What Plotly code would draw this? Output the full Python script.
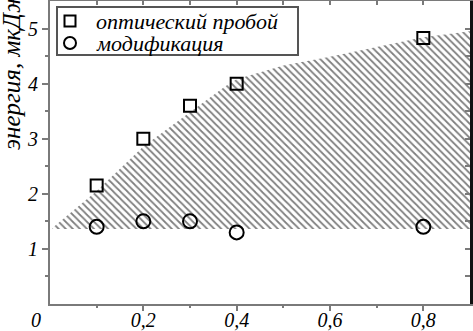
import plotly.graph_objects as go

# ---- data ----
x_values = [0.1, 0.2, 0.3, 0.4, 0.8]
breakdown = [2.15, 3.0, 3.6, 4.0, 4.83]        # оптический пробой
modification = [1.4, 1.5, 1.5, 1.3, 1.4]        # модификация

hatch_top_x = [0.005, 0.1, 0.2, 0.3, 0.375, 0.4, 0.5, 0.6, 0.7, 0.8, 0.9]
hatch_top_y = [1.38, 2.05, 2.86, 3.48, 3.95, 4.08, 4.33, 4.49, 4.66, 4.84, 4.95]
hatch_bottom_y = 1.36

x_tickvals = [0.2, 0.4, 0.6, 0.8]
x_ticktext = ["0,2", "0,4", "0,6", "0,8"]
y_tickvals = [1, 2, 3, 4, 5]
y_ticktext = ["1", "2", "3", "4", "5"]

legend_labels = ["оптический пробой", "модификация"]
y_title = "энергия, мкДж"

FONT = "Liberation Serif"
GRAY = "#7a7a7a"

fig = go.Figure()

# hatched region
poly_x = hatch_top_x + [hatch_top_x[-1], hatch_top_x[0]]
poly_y = hatch_top_y + [hatch_bottom_y, hatch_bottom_y]
fig.add_trace(go.Scatter(
    x=poly_x, y=poly_y, mode="lines", fill="toself",
    line=dict(width=0, color="rgba(0,0,0,0)"),
    fillcolor="rgba(0,0,0,0)",
    fillpattern=dict(shape="\\", size=5, solidity=0.35,
                     fgcolor="black", bgcolor="rgba(0,0,0,0)"),
    showlegend=False, hoverinfo="skip"))

fig.add_trace(go.Scatter(
    x=x_values, y=breakdown, mode="markers", name=legend_labels[0],
    marker=dict(symbol="square-open", size=12, color="black",
                line=dict(width=2, color="black")),
    showlegend=False))
fig.add_trace(go.Scatter(
    x=x_values, y=modification, mode="markers", name=legend_labels[1],
    marker=dict(symbol="circle-open", size=14, color="black",
                line=dict(width=2, color="black")),
    showlegend=False))

# empty trace to create the mirrored (top/right) axes
fig.add_trace(go.Scatter(x=[], y=[], xaxis="x2", yaxis="y2",
                         showlegend=False, hoverinfo="skip"))

tickfont = dict(family=FONT, size=20, color="black", style="italic")

fig.update_layout(
    width=473, height=331,
    margin=dict(l=50, r=3, t=1, b=27, autoexpand=False),
    paper_bgcolor="white", plot_bgcolor="white",
    showlegend=False,
    xaxis=dict(range=[0, 0.9], showgrid=False, zeroline=False,
               showline=True, linecolor=GRAY, linewidth=2,
               tickmode="array", tickvals=x_tickvals, ticktext=x_ticktext,
               ticks="outside", ticklen=5, tickwidth=1.5, tickcolor=GRAY,
               tickfont=tickfont, ticklabelstandoff=-8,
               minor=dict(tickmode="array", tickvals=[0.1, 0.3, 0.5, 0.7],
                          ticks="outside", ticklen=2, tickwidth=1.5,
                          tickcolor=GRAY, showgrid=False)),
    yaxis=dict(range=[0, 5.5], showgrid=False, zeroline=False,
               showline=True, linecolor=GRAY, linewidth=2,
               tickmode="array", tickvals=y_tickvals, ticktext=y_ticktext,
               ticks="outside", ticklen=6, tickwidth=1.5, tickcolor=GRAY,
               tickfont=tickfont,
               minor=dict(tickmode="array",
                          tickvals=[0.5, 1.5, 2.5, 3.5, 4.5],
                          ticks="outside", ticklen=3, tickwidth=1.5,
                          tickcolor=GRAY, showgrid=False)),
    xaxis2=dict(range=[0, 0.9], overlaying="x", side="top", anchor="y2",
                showgrid=False, zeroline=False, showline=True,
                linecolor=GRAY, linewidth=2, showticklabels=False,
                tickmode="linear", tick0=0, dtick=0.1,
                ticks="inside", ticklen=4, tickwidth=1.5, tickcolor=GRAY),
    yaxis2=dict(range=[0, 5.5], overlaying="y", side="right", anchor="x2",
                showgrid=False, zeroline=False, showline=True,
                linecolor="#111111", linewidth=2.5, showticklabels=False,
                tickmode="linear", tick0=0, dtick=0.5,
                ticks="inside", ticklen=5, tickwidth=1.5, tickcolor=GRAY),
)

# manual legend
lx0, lx1 = (57 - 50) / 420, (298 - 50) / 420
ly0, ly1 = (304 - 55) / 303, (304 - 7) / 303
fig.add_shape(type="rect", xref="paper", yref="paper",
              x0=lx0, x1=lx1, y0=ly0, y1=ly1,
              line=dict(color="#555555", width=2), fillcolor="white",
              layer="above")
sym_x = (70 - 50) / 420
row_y = [(304 - 21) / 303, (304 - 43) / 303]
fig.add_shape(type="rect", xref="paper", yref="paper",
              xsizemode="pixel", ysizemode="pixel",
              xanchor=sym_x, yanchor=row_y[0],
              x0=-5.5, x1=5.5, y0=-5.5, y1=5.5,
              line=dict(color="black", width=2), layer="above")
fig.add_shape(type="circle", xref="paper", yref="paper",
              xsizemode="pixel", ysizemode="pixel",
              xanchor=sym_x, yanchor=row_y[1],
              x0=-6, x1=6, y0=-6, y1=6,
              line=dict(color="black", width=2), layer="above")
text_x = (94 - 50) / 420
for lbl, ry in zip(legend_labels, row_y):
    fig.add_annotation(text=lbl, xref="paper", yref="paper",
                       x=text_x, y=ry, xanchor="left", yanchor="middle",
                       showarrow=False,
                       font=dict(family=FONT, size=22, color="black",
                                 style="italic"))

# shared origin label
fig.add_annotation(text="0", xref="paper", yref="paper",
                   x=(36 - 50) / 420, y=(304 - 320) / 303,
                   xanchor="center", yanchor="middle", showarrow=False,
                   font=tickfont)

# y axis title
fig.add_annotation(text=y_title, xref="paper", yref="paper",
                   x=(11 - 50) / 420, y=(304 - 70) / 303,
                   xanchor="center", yanchor="middle", textangle=-90,
                   showarrow=False,
                   font=dict(family=FONT, size=25, color="black",
                             style="italic"))

fig.write_html("out.html",
               config={"displayModeBar": False},
               post_script="document.body.style.margin='0';"
                           "document.body.style.padding='0';")
